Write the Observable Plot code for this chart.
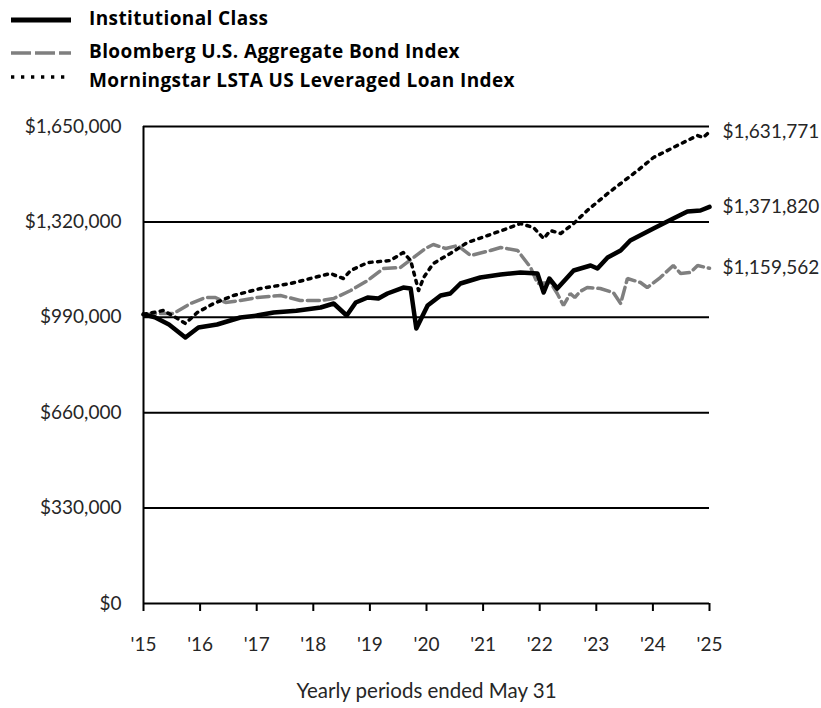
<!DOCTYPE html>
<html><head><meta charset="utf-8">
<script src="https://cdn.jsdelivr.net/npm/d3@7"></script>
<script src="https://cdn.jsdelivr.net/npm/@observablehq/plot@0.6"></script>
<style>
body{margin:0;background:#fff;font-family:Lato,"Open Sans",sans-serif;}
#legend{position:relative;height:110px;width:821px;}
.row{position:absolute;left:0;width:821px;}
.row svg{position:absolute;left:11px;}
.row span{position:absolute;left:89px;font-family:"Open Sans",sans-serif;font-weight:bold;font-size:19px;letter-spacing:0.4px;color:#000;white-space:nowrap;line-height:1;}
</style></head><body>
<div id="legend"></div>
<div id="chart"></div>
<script>
// ---- data ----
const seriesNames = ["Institutional Class", "Bloomberg U.S. Aggregate Bond Index", "Morningstar LSTA US Leveraged Loan Index"];

const instYears  = [2015.00,2015.20,2015.45,2015.74,2015.97,2016.30,2016.71,2017.00,2017.30,2017.70,2018.13,2018.36,2018.59,2018.75,2018.96,2019.15,2019.31,2019.59,2019.72,2019.82,2020.02,2020.25,2020.42,2020.60,2020.95,2021.31,2021.66,2021.96,2022.07,2022.17,2022.31,2022.60,2022.90,2023.02,2023.20,2023.43,2023.60,2024.01,2024.36,2024.61,2024.84,2025.00];
const instValues = [1000000,990000,965000,920100,954700,965000,989300,996000,1006600,1013000,1023900,1037700,996200,1041200,1058500,1055000,1072300,1093000,1089600,951200,1030800,1065400,1072300,1106900,1127600,1138000,1144900,1141500,1075700,1124200,1089600,1151800,1169100,1158700,1196800,1221000,1255600,1297100,1331700,1355900,1359400,1371820];

const bondYears  = [2015.00,2015.30,2015.53,2015.83,2016.10,2016.27,2016.45,2016.71,2017.01,2017.42,2017.77,2018.13,2018.36,2018.66,2018.96,2019.24,2019.54,2019.77,2019.98,2020.12,2020.34,2020.55,2020.78,2021.13,2021.31,2021.61,2021.84,2021.96,2022.19,2022.31,2022.42,2022.54,2022.62,2022.72,2022.84,2023.07,2023.30,2023.43,2023.55,2023.78,2023.90,2024.13,2024.36,2024.49,2024.66,2024.79,2025.00];
const bondValues = [1000000,1003100,1003100,1037700,1058500,1058500,1041200,1048100,1058500,1065400,1048100,1048100,1055000,1082700,1117300,1158800,1162200,1196800,1228000,1241800,1228000,1238300,1203700,1221000,1231400,1221000,1162200,1106900,1110300,1072300,1030800,1072300,1058500,1080000,1093000,1089600,1075700,1037700,1124200,1110300,1093000,1127600,1169100,1141500,1144900,1169100,1159562];

const loanYears  = [2015.00,2015.35,2015.60,2015.74,2015.95,2016.24,2016.59,2017.07,2017.60,2017.95,2018.30,2018.53,2018.66,2018.96,2019.36,2019.59,2019.72,2019.86,2019.95,2020.12,2020.42,2020.72,2021.08,2021.43,2021.66,2021.89,2022.07,2022.19,2022.37,2022.60,2022.84,2023.20,2023.43,2023.73,2024.01,2024.36,2024.61,2024.79,2024.89,2025.00];
const loanValues = [1000000,1013500,985800,968500,1006600,1037700,1065400,1089600,1106900,1124200,1141500,1124200,1151800,1179500,1186400,1214100,1186400,1082700,1127600,1176100,1210700,1248700,1272900,1297100,1314400,1300600,1262500,1290200,1279800,1314400,1359400,1418200,1452800,1497700,1542700,1577300,1601500,1618800,1611900,1631771];

const endLabels = ["$1,371,820", "$1,159,562", "$1,631,771"];

const xTicks = [2015,2016,2017,2018,2019,2020,2021,2022,2023,2024,2025];
const xTickLabels = ["'15","'16","'17","'18","'19","'20","'21","'22","'23","'24","'25"];
const yTicks = [0,330000,660000,990000,1320000,1650000];
const xAxisLabel = "Yearly periods ended May 31";

// ---- legend ----
const legendStyles = [
  {stroke:"#000", width:5, dash:null, lineY:20},
  {stroke:"#7f7f7f", width:3.5, dash:"20,4", lineY:53},
  {stroke:"#000", width:3.3, dash:"3.3,6.7", lineY:77}
];
const legendTextY = [20, 53, 82];
const legend = document.getElementById("legend");
seriesNames.forEach((name, i) => {
  const s = legendStyles[i];
  const row = document.createElement("div");
  row.className = "row";
  row.style.top = "0px";
  const svgNS = "http://www.w3.org/2000/svg";
  const svg = document.createElementNS(svgNS, "svg");
  svg.setAttribute("width", 62); svg.setAttribute("height", 12);
  svg.style.top = (s.lineY - 6) + "px";
  const ln = document.createElementNS(svgNS, "line");
  ln.setAttribute("x1", 0); ln.setAttribute("x2", 60);
  ln.setAttribute("y1", 6); ln.setAttribute("y2", 6);
  ln.setAttribute("stroke", s.stroke); ln.setAttribute("stroke-width", s.width);
  if (s.dash) ln.setAttribute("stroke-dasharray", s.dash);
  svg.appendChild(ln);
  row.appendChild(svg);
  const sp = document.createElement("span");
  sp.textContent = name;
  sp.style.top = (legendTextY[i] - 11) + "px";
  row.appendChild(sp);
  legend.appendChild(row);
});

// ---- chart ----
const fmt = d3.format(",");
const ends = [
  {x: instYears.at(-1), y: instValues.at(-1), t: endLabels[0]},
  {x: bondYears.at(-1), y: bondValues.at(-1), t: endLabels[1]},
  {x: loanYears.at(-1), y: loanValues.at(-1), t: endLabels[2]}
];
const tickLabelMap = new Map(xTicks.map((t, i) => [t, xTickLabels[i]]));

const chart = Plot.plot({
  width: 821,
  height: 598,
  marginLeft: 143,
  marginRight: 112,
  marginTop: 16,
  marginBottom: 105,
  style: {fontFamily: "Lato, 'Open Sans', sans-serif", fontSize: "19px", color: "#262626", background: "#fff"},
  x: {type: "linear", domain: [2015, 2025]},
  y: {domain: [0, 1650000]},
  marks: [
    Plot.ruleY(yTicks, {stroke: "#000", strokeWidth: 2}),
    Plot.ruleX([2015], {stroke: "#000", strokeWidth: 2}),
    Plot.axisY({ticks: yTicks, tickFormat: d => "$" + fmt(d), tickSize: 0, tickPadding: 22, label: null, fill: "#262626"}),
    Plot.axisX({ticks: xTicks, tickFormat: d => tickLabelMap.get(d), tickSize: 8, tickPadding: 26, stroke: "#000", strokeWidth: 2, fill: "#262626", label: null}),
    Plot.text([xAxisLabel], {frameAnchor: "bottom", dy: 94, fontSize: 20.5, fill: "#262626"}),
    Plot.line(bondValues, {x: bondYears, y: bondValues, stroke: "#7f7f7f", strokeWidth: 3.5, strokeDasharray: "12,5", strokeLinejoin: "miter"}),
    Plot.line(loanValues, {x: loanYears, y: loanValues, stroke: "#000", strokeWidth: 3.5, strokeDasharray: "3,5.5"}),
    Plot.line(instValues, {x: instYears, y: instValues, stroke: "#000", strokeWidth: 4.5}),
    Plot.text(ends, {x: "x", y: "y", text: "t", dx: 13, textAnchor: "start", fill: "#262626", fontSize: 19})
  ]
});
document.getElementById("chart").appendChild(chart);
</script>
</body></html>
